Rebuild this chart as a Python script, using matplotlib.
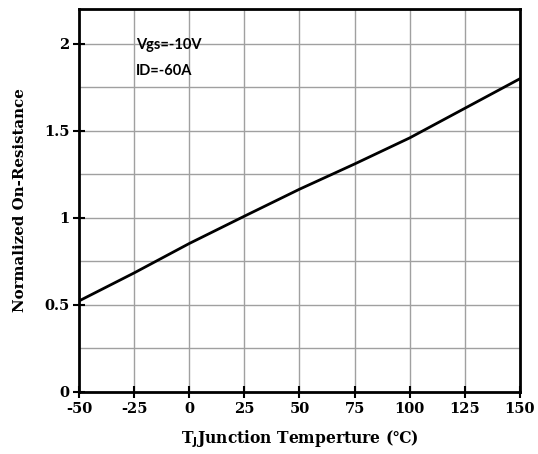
import matplotlib
matplotlib.use("Agg")
import matplotlib.pyplot as plt
import numpy as np

plt.rcParams["axes.unicode_minus"] = False

temps = [-50, -25, 0, 25, 50, 75, 100, 125, 150]
rds_norm = [0.523, 0.684, 0.853, 1.01, 1.165, 1.31, 1.46, 1.63, 1.80]
xticks = [-50, -25, 0, 25, 50, 75, 100, 125, 150]
yticks = [0, 0.5, 1, 1.5, 2]
yticklabels = ["0", "0.5", "1", "1.5", "2"]
ygrid = [0.25, 0.5, 0.75, 1.0, 1.25, 1.5, 1.75, 2.0]

fig = plt.figure(figsize=(5.38, 4.54), dpi=100)
ax = fig.add_axes([0.1468, 0.1366, 0.8197, 0.8434])

for g in ygrid:
    ax.axhline(g, color="#a0a0a0", lw=1.0, zorder=1)
for g in xticks[1:-1]:
    ax.axvline(g, color="#a0a0a0", lw=1.0, zorder=1)

ax.plot(temps, rds_norm, color="black", lw=2.0, zorder=3)

ax.set_xlim(-50, 150)
ax.set_ylim(0, 2.2)
ax.set_xticks(xticks)
ax.set_xticklabels([str(t) for t in xticks])
ax.set_yticks(yticks)
ax.set_yticklabels(yticklabels)
for s in ax.spines.values():
    s.set_linewidth(2.0)
ax.tick_params(direction="inout", length=8, width=1.5, pad=3)
for lab in ax.get_xticklabels() + ax.get_yticklabels():
    lab.set_fontfamily("DejaVu Serif")
    lab.set_fontweight("bold")
    lab.set_fontsize(10.5)

ax.set_ylabel("Normalized On-Resistance", fontfamily="DejaVu Serif",
              fontweight="bold", fontsize=10.8, labelpad=12)
ax.set_xlabel(r"T$_\mathbf{J}$Junction Temperture (℃)", fontfamily="DejaVu Serif",
              fontweight="bold", fontsize=11.2, labelpad=9)

ax.text(-24, 1.995, "Vgs=-10V", fontfamily="Lato", fontweight="bold", fontsize=10.5,
        va="center", ha="left", zorder=4)
ax.text(-24, 1.845, "ID=-60A", fontfamily="Lato", fontweight="bold", fontsize=10.5,
        va="center", ha="left", zorder=4)

fig.savefig("out.png", dpi=100)
